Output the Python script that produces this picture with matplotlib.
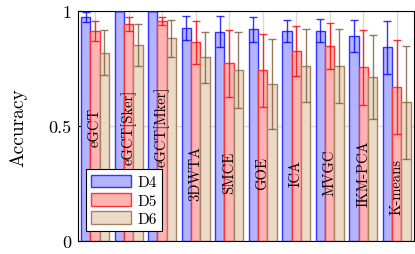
import matplotlib
matplotlib.use("Agg")
import matplotlib.pyplot as plt
import numpy as np

plt.rcParams['font.family'] = ['cmr10', 'DejaVu Serif']
plt.rcParams['axes.formatter.use_mathtext'] = True

methods = ["eGCT", "eGCT[Sker]", "eGCT[Mker]", "3DWTA", "SMCE", "GOE",
           "ICA", "MVGC", "IKM-PCA", "K-means"]
d4 = [0.973, 1.0, 1.0, 0.925, 0.910, 0.920, 0.912, 0.915, 0.893, 0.842]
d4_err = [0.021, 0.0, 0.0, 0.053, 0.067, 0.055, 0.048, 0.051, 0.070, 0.114]
d5 = [0.912, 0.944, 0.958, 0.864, 0.773, 0.742, 0.826, 0.847, 0.755, 0.671]
d5_err = [0.043, 0.030, 0.017, 0.094, 0.146, 0.160, 0.107, 0.100, 0.163, 0.205]
d6 = [0.819, 0.852, 0.881, 0.799, 0.745, 0.684, 0.762, 0.760, 0.712, 0.604]
d6_err = [0.097, 0.090, 0.080, 0.110, 0.165, 0.195, 0.158, 0.160, 0.182, 0.245]
label_y = [0.50, 0.50, 0.50, 0.30, 0.30, 0.30, 0.30, 0.30, 0.30, 0.24]

series = [
    ("D4", d4, d4_err, "#b3b3ff", "#3333ff", "#0000ff"),
    ("D5", d5, d5_err, "#ffb3b3", "#ff3333", "#ff0000"),
    ("D6", d6, d6_err, "#ecdac7", "#a58361", "#7d5a36"),
]

fig = plt.figure(figsize=(4.15, 2.55), dpi=100)
ax = fig.add_axes([0.1887, 0.0498, 0.8077, 0.9032])

x = np.arange(len(methods))
w = 0.278
for i, (name, vals, errs, fc, ec, errc) in enumerate(series):
    pos = x + (i - 1) * w
    ax.bar(pos, vals, w, color=fc, edgecolor=ec, linewidth=1.0, label=name, zorder=2)
    ax.errorbar(pos, vals, yerr=errs, fmt="none", ecolor=errc, elinewidth=1.0,
                capsize=3.2, capthick=1.0, alpha=0.8, zorder=3)

for xi, name, yy in zip(x, methods, label_y):
    ax.text(xi, yy, name, rotation=90, ha="center", va="center", fontsize=10.5, zorder=4)

ax.set_xlim(-0.5, len(methods) - 0.5)
ax.set_ylim(0, 1)
ax.set_xticks(x)
ax.set_xticklabels([])
ax.tick_params(axis="x", length=0)
ax.set_yticks([0, 0.5, 1])
ax.set_yticklabels(["0", "0.5", "1"])
ax.tick_params(axis="y", direction="in", length=3, labelsize=13, pad=5)
ax.grid(True, color="#d9d9d9", linewidth=1.0, zorder=0)
ax.set_axisbelow(True)
ax.set_ylabel("Accuracy", fontsize=14, labelpad=15)

leg = ax.legend(loc="lower left", bbox_to_anchor=(0.0, 0.01), fontsize=11,
                frameon=True, fancybox=False, edgecolor="black", framealpha=1,
                handlelength=2.6, handleheight=0.9, handletextpad=0.4,
                borderpad=0.35, labelspacing=0.25)
leg.get_frame().set_linewidth(0.8)

fig.savefig("out.png", dpi=100)
